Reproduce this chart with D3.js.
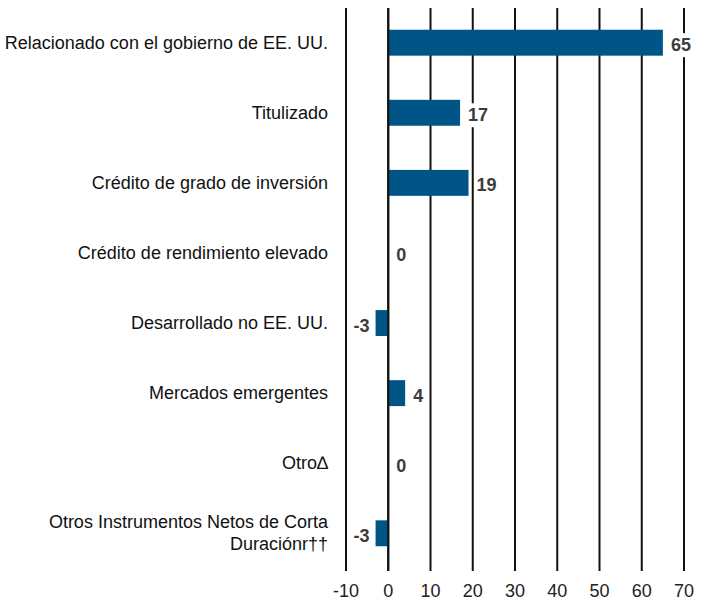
<!DOCTYPE html>
<html>
<head>
<meta charset="utf-8">
<script src="https://cdn.jsdelivr.net/npm/d3@7"></script>
<style>
body { margin: 0; background: #fff; }
text { font-family: "Liberation Sans Narrow", "Arial Narrow", "Liberation Sans", sans-serif; }
</style>
</head>
<body>
<div class="chart"></div>
<script>
//=====================DATA=====================
const categories = [
	['Relacionado con el gobierno de EE. UU.'],
	['Titulizado'],
	['Crédito de grado de inversión'],
	['Crédito de rendimiento elevado'],
	['Desarrollado no EE. UU.'],
	['Mercados emergentes'],
	['Otro∆'],
	['Otros Instrumentos Netos de Corta', 'Duraciónr††']
]
const values = [65, 17, 19, 0, -3, 4, 0, -3]
const ticks = [-10, 0, 10, 20, 30, 40, 50, 60, 70]

//====================STRUCTURE===================
const width = 710
const height = 604
const margin = {top: 8, right: 26, bottom: 36, left: 346}

const svg = d3.select('.chart')
.append('svg')
.attr('width', width)
.attr('height', height)

const x = d3.scaleLinear()
.domain([-10, 70])
.range([margin.left, width - margin.right])

const y = d3.scaleBand()
.domain(d3.range(categories.length))
.range([margin.top, height - margin.bottom])
.paddingInner(0.63)
.paddingOuter(0.31)

// gridlines + ticks
svg.append('g')
.attr('class', 'grid')
.selectAll('line')
.data(ticks)
.enter()
.append('line')
.attr('x1', d => x(d))
.attr('x2', d => x(d))
.attr('y1', margin.top)
.attr('y2', height - margin.bottom + 3)
.attr('stroke', '#111')
.attr('stroke-width', 2)

svg.append('g')
.attr('class', 'tick-labels')
.selectAll('text')
.data(ticks)
.enter()
.append('text')
.attr('x', d => x(d))
.attr('y', height - 7)
.attr('text-anchor', 'middle')
.attr('font-size', 18)
.attr('fill', '#222')
.text(d => d)

// bars
svg.append('g')
.selectAll('rect')
.data(values)
.enter()
.append('rect')
.attr('x', d => x(Math.min(0, d)))
.attr('y', (d, i) => y(i))
.attr('width', d => Math.abs(x(d) - x(0)))
.attr('height', y.bandwidth())
.attr('fill', '#005486')

// zero line on top
svg.append('line')
.attr('x1', x(0))
.attr('x2', x(0))
.attr('y1', margin.top)
.attr('y2', height - margin.bottom + 3)
.attr('stroke', '#111')
.attr('stroke-width', 2)

// value labels
const valueLabels = svg.append('g')
.selectAll('g')
.data(values)
.enter()
.append('g')

valueLabels.each(function(d, i) {
	const g = d3.select(this)
	const neg = d < 0
	const t = g.append('text')
	.attr('x', neg ? x(d) - 6 : x(d) + 8)
	.attr('y', y(i) + y.bandwidth() / 2 + 2)
	.attr('dy', '0.36em')
	.attr('text-anchor', neg ? 'end' : 'start')
	.attr('font-size', 18)
	.attr('font-weight', 'bold')
	.attr('fill', '#3c3c3c')
	.text(d)
	const bb = t.node().getBBox()
	g.insert('rect', 'text')
	.attr('x', bb.x - 2)
	.attr('y', bb.y - 2)
	.attr('width', bb.width + 4)
	.attr('height', bb.height + 4)
	.attr('fill', '#fff')
})

// category labels
svg.append('g')
.selectAll('text')
.data(categories)
.enter()
.append('text')
.attr('x', 328)
.attr('y', (d, i) => y(i) + y.bandwidth() / 2 + 6 - (d.length - 1) * 11)
.attr('dy', '0.36em')
.attr('text-anchor', 'end')
.attr('font-size', 18)
.attr('fill', '#111')
.each(function(d) {
	d3.select(this).selectAll('tspan')
	.data(d)
	.enter()
	.append('tspan')
	.attr('x', 328)
	.attr('dy', (l, j) => j == 0 ? 0 : 22)
	.text(l => l)
})
</script>
</body>
</html>
